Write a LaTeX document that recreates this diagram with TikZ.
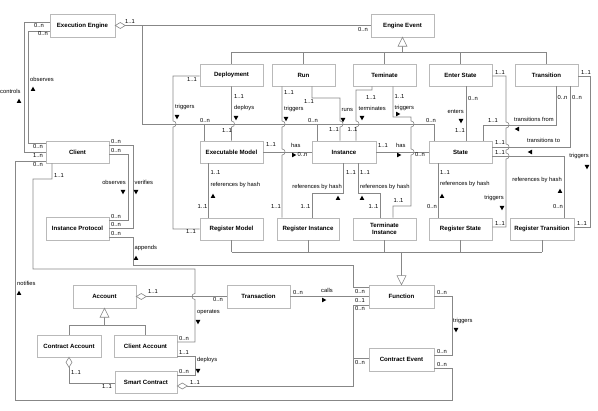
\documentclass[tikz,border=0pt]{standalone}
\usepackage{fontspec}
\setmainfont{Liberation Sans}
\definecolor{boxc}{RGB}{185,185,185}
\definecolor{linec}{RGB}{135,135,135}
\newcommand\hopR[2]{-- (#1,#2-3) .. controls (#1+4,#2-3) and (#1+4,#2+3) .. (#1,#2+3)}
\newcommand\hopL[2]{-- (#1,#2-3) .. controls (#1-4,#2-3) and (#1-4,#2+3) .. (#1,#2+3)}
\newcommand\tU[2]{\fill (#1-2.3,#2+2) -- (#1+2.3,#2+2) -- (#1,#2-2.4) -- cycle;}
\newcommand\tD[2]{\fill (#1-2.3,#2-2) -- (#1+2.3,#2-2) -- (#1,#2+2.4) -- cycle;}
\newcommand\tR[2]{\fill (#1-2,#2-2.3) -- (#1-2,#2+2.3) -- (#1+2.4,#2) -- cycle;}
\newcommand\tL[2]{\fill (#1+2,#2-2.3) -- (#1+2,#2+2.3) -- (#1-2.4,#2) -- cycle;}
\begin{document}
\begin{tikzpicture}[x=1pt,y=-1pt,
 box/.style={draw=boxc,fill=white,line width=0.6pt,inner sep=0pt,align=center,
   font=\fontsize{6.1}{7}\selectfont\bfseries,minimum width=63pt,minimum height=22pt},
 ln/.style={draw=linec,line width=0.6pt},
 lb/.style={inner sep=0pt,font=\fontsize{5.8}{6.5}\selectfont,anchor=west}]
\useasboundingbox (0,0) rectangle (598,411);
% boxes
\node[box,minimum width=65pt,minimum height=23pt] (ee) at (82.5,25.5) {Execution Engine};
\node[box,minimum height=23pt] (ev) at (402.5,25.5) {Engine Event};
\node[box] (dep) at (231.5,75) {Deployment};
\node[box] (run) at (303.5,75) {Run};
\node[box] (ter) at (384.5,75) {Teminate};
\node[box] (ens) at (460.5,75) {Enter State};
\node[box] (tra) at (546.5,75) {Transition};
\node[box] (cli) at (77.5,152) {Client};
\node[box] (exm) at (231.5,152) {Executable Model};
\node[box,minimum width=64pt] (ins) at (344,152) {Instance};
\node[box] (sta) at (460.5,152) {State};
\node[box,minimum height=23pt] (ip) at (77.5,228.5) {Instance Protocol};
\node[box] (rm) at (231.5,229) {Register Model};
\node[box,minimum width=62pt] (ri) at (308,229) {Register Instance};
\node[box] (ti) at (384.5,229) {Terminate\\Instance};
\node[box] (rs) at (460.5,229) {Register State};
\node[box,minimum width=64pt] (rt) at (542,229) {Register Transition};
\node[box,minimum height=23pt] (acc) at (104.5,296.5) {Account};
\node[box,minimum height=23pt] (trn) at (258.5,296.5) {Transaction};
\node[box,minimum width=65pt,minimum height=23pt] (fun) at (401.5,296.5) {Function};
\node[box,minimum width=64pt] (ca) at (69,346) {Contract Account};
\node[box] (cla) at (145.5,346) {Client Account};
\node[box,minimum width=62pt] (sc) at (146,382) {Smart Contract};
\node[box,minimum width=65pt,minimum height=23pt] (ce) at (401.5,359.5) {Contract Event};
% generalization: Engine Event
\draw[ln] ([yshift=-9pt]ev.south) -- (ev.south |- 0,52);
\draw[ln] (dep.north |- 0,52) -- (tra.north |- 0,52);
\foreach \n in {dep,run,ter,ens,tra} \draw[ln] (\n.north) -- (\n.north |- 0,52);
\draw[ln,fill=white] (ev.south) -- ++(4.5,9) -- ++(-9,0) -- cycle;
% generalization: Function
\draw[ln] (rm.south |- 0,252) -- (rt.south |- 0,252);
\foreach \n in {rm,ri,ti,rs,rt} \draw[ln] (\n.south) -- (\n.south |- 0,252);
\draw[ln] (fun.north |- 0,252) -- ([yshift=9pt]fun.north);
\draw[ln,fill=white] (fun.north) -- ++(4.5,-9) -- ++(-9,0) -- cycle;
% generalization: Account
\draw[ln] ([yshift=-9pt]acc.south) -- (acc.south |- 0,325);
\draw[ln] (ca.north |- 0,325) -- (cla.north |- 0,325);
\draw[ln] (ca.north) -- (ca.north |- 0,325);
\draw[ln] (cla.north) -- (cla.north |- 0,325);
\draw[ln,fill=white] (acc.south) -- ++(4.5,9) -- ++(-9,0) -- cycle;
% Execution Engine aggregation
\draw[ln] ([xshift=10pt]ee.east) -- (ev.west);
\draw[ln] (142,25.5) -- (142,124) -- (434,124) -- (sta.north -| 434,0);
\draw[ln] (204,124) -- (exm.north -| 204,0);
\draw[ln] (317,124) -- (ins.north -| 317,0);
\draw[ln,fill=white] (ee.east) -- ++(5,-3) -- ++(5,3) -- ++(-5,3) -- cycle;
% controls / observes / notifies
\draw[ln] (ee.west |- 0,22) -- (24,22) -- (24,152) -- (cli.west |- 0,152);
\draw[ln] (ee.west |- 0,31) -- (28,31) -- (28,143) -- (cli.west |- 0,143);
\draw[ln] (cli.west |- 0,161) -- (15,161) -- (15,400) -- (452,400) -- (452,368) -- (ce.east |- 0,368);
% client / instance protocol
\draw[ln] (cli.east |- 0,154) -- (128,154) -- (128,220) -- (ip.east |- 0,220);
\draw[ln] (cli.east |- 0,145) -- (133,145) -- (133,228) -- (ip.east |- 0,228);
\draw[ln] (ip.east |- 0,237) -- (133,237) -- (133,265) -- (353,265) -- (353,287) -- (fun.west |- 0,287);
% operates
\draw[ln] (cli.south -| 52,0) -- (52,179) -- (33,179) -- (33,269) -- (195,269) \hopL{195}{296.5} -- (195,342) -- (cla.east |- 0,342);
% account - transaction
\draw[ln] ([xshift=10pt]acc.east) -- (trn.west);
\draw[ln,fill=white] (acc.east) -- ++(5,-3) -- ++(5,3) -- ++(-5,3) -- cycle;
% calls
\draw[ln] (trn.east) -- (fun.west);
% smart contract aggregation
\draw[ln] ([xshift=10pt]sc.east |- 0,386) -- (353,386) -- (353,305) -- (fun.west |- 0,305);
\draw[ln] (353,358) -- (ce.west |- 0,358);
\draw[ln,fill=white] (sc.east |- 0,386) -- ++(5,-3) -- ++(5,3) -- ++(-5,3) -- cycle;
% deploys (client account -> smart contract)
\draw[ln] (cla.east |- 0,356) -- (195,356) -- (195,375) -- (sc.east |- 0,375);
% contract account - smart contract
\draw[ln] ([yshift=-10pt]ca.south) -- (69,383) -- (sc.west |- 0,383);
\draw[ln,fill=white] (ca.south) -- ++(3,5) -- ++(-3,5) -- ++(-3,-5) -- cycle;
% function triggers contract event
\draw[ln] (fun.east |- 0,296) -- (452,296) -- (452,355) -- (ce.east |- 0,355);
% deployment triggers register model
\draw[ln] (dep.west |- 0,76) -- (173,76) \hopR{173}{124} -- (173,229) -- (rm.west);
% deploys
\draw[ln] (dep.south) \hopR{231.5}{124} -- (exm.north);
% run triggers register instance
\draw[ln] (run.south -| 282,0) \hopR{282}{124} \hopR{282}{152} -- (ri.north -| 282,0);
% runs
\draw[ln] (run.south -| 312,0) -- (312,98) -- (340,98) \hopR{340}{124} -- (ins.north -| 340,0);
% terminates
\draw[ln] (ter.south -| 372,0) -- (372,90) -- (356,90) \hopR{356}{124} -- (ins.north -| 356,0);
% teminate triggers terminate instance
\draw[ln] (ter.south -| 393,0) -- (393,117) -- (411,117) \hopR{411}{124} \hopR{411}{152} -- (411,206) -- (393,206) -- (ti.north -| 393,0);
% has
\draw[ln] (exm.east) -- (ins.west);
\draw[ln] (ins.east) -- (sta.west);
% references by hash
\draw[ln] (exm.south -| 208,0) -- (rm.north -| 208,0);
\draw[ln] (ins.south -| 343,0) -- (343,193) -- (312,193) -- (ri.north -| 312,0);
\draw[ln] (ins.south -| 358,0) -- (358,193) -- (380,193) -- (ti.north -| 380,0);
\draw[ln] (sta.south -| 438,0) -- (rs.north -| 438,0);
% enters
\draw[ln] (ens.south -| 466,0) -- (sta.north -| 466,0);
% enter state triggers register state
\draw[ln] (ens.east |- 0,76) -- (506,76) \hopR{506}{125} \hopR{506}{147} \hopR{506}{156} -- (506,227) -- (rs.east |- 0,227);
% transitions from / to
\draw[ln] (tra.south -| 556,0) -- (556,125) -- (483,125) -- (sta.north -| 483,0);
\draw[ln] (sta.east |- 0,147) -- (570,147) -- (tra.south -| 570,0);
% register transition references state
\draw[ln] (sta.east |- 0,156) -- (564,156) -- (rt.north -| 564,0);
% transition triggers register transition
\draw[ln] (tra.east |- 0,76) -- (590,76) -- (590,227) -- (rt.east |- 0,227);
% labels
\node[lb] (l01) at (125,21.5) {1..1};
\node[lb] (l02) at (358,29.5) {0..n};
\node[lb] (l03) at (200,120.5) {0..n};
\node[lb] (l04) at (308,120.5) {0..n};
\node[lb] (l05) at (426,120.5) {0..n};
\node[lb] (l06) at (34,25.5) {0..n};
\node[lb] (l07) at (33,155.5) {1..n};
\node[lb] (l08) at (0,91) {controls};
\tU{19}{101}
\node[lb] (l09) at (38,34) {0..n};
\node[lb] (l10) at (33,146.5) {0..n};
\node[lb] (l11) at (30,79) {observes};
\tU{33}{89}
\node[lb] (l12) at (33,164.5) {0..n};
\node[lb] (l13) at (437,365) {0..n};
\node[lb] (l14) at (17,283) {notifies};
\tU{19}{293}
\node[lb] (l15) at (111,150.5) {0..n};
\node[lb] (l16) at (111,216.5) {0..n};
\node[lb,anchor=east] (l17) at (126,182) {observes};
\tD{123}{192}
\node[lb] (l18) at (111,141.5) {0..n};
\node[lb] (l19) at (111,224.5) {0..n};
\node[lb] (l20) at (134.5,182) {verifies};
\tD{136}{192}
\node[lb] (l21) at (111,233.5) {0..n};
\node[lb] (l22) at (134.5,248) {appends};
\tU{136}{258}
\node[lb] (l23) at (355,291.5) {0..n};
\node[lb] (l24) at (54,175.5) {1..1};
\node[lb] (l25) at (179,338.5) {0..n};
\node[lb] (l26) at (197,312) {operates};
\tD{198}{322}
\node[lb] (l27) at (148,292) {1..1};
\node[lb] (l28) at (213,300) {0..n};
\node[lb] (l29) at (293,292.5) {0..n};
\node[lb] (l30) at (321,290) {calls};
\tR{324}{300}
\node[lb] (l31) at (355,300.5) {0..1};
\node[lb] (l32) at (190,382.5) {1..1};
\node[lb] (l33) at (355,309) {0..n};
\node[lb] (l34) at (355,362.5) {0..n};
\node[lb] (l35) at (179,352.5) {1..1};
\node[lb] (l36) at (179,372) {0..n};
\node[lb] (l37) at (197,360) {deploys};
\tD{198}{371}
\node[lb] (l38) at (71,373) {1..1};
\node[lb] (l39) at (102,386.5) {1..1};
\node[lb] (l40) at (437,292.5) {0..n};
\node[lb] (l41) at (437,351.5) {0..n};
\node[lb] (l42) at (453,321) {triggers};
\tD{456}{330}
\node[lb] (l43) at (187,79.5) {1..1};
\node[lb] (l44) at (175,107) {triggers};
\tD{177}{117}
\node[lb] (l45) at (186,231.5) {1..1};
\node[lb] (l46) at (234,97) {1..1};
\node[lb] (l47) at (234,108) {deploys};
\tD{236}{118}
\node[lb] (l48) at (222,131) {1..1};
\node[lb] (l49) at (284,93) {1..1};
\node[lb] (l50) at (284,109) {triggers};
\tD{286}{119}
\node[lb] (l51) at (271,207) {1..1};
\node[lb] (l52) at (304,102) {1..1};
\node[lb] (l53) at (341.5,110) {runs};
\tD{343}{120}
\node[lb] (l54) at (329,130) {1..1};
\node[lb] (l55) at (366,98) {1..1};
\node[lb] (l56) at (358.5,108.5) {terminates};
\tD{362}{118}
\node[lb] (l57) at (347.5,130) {1..1};
\node[lb] (l58) at (394.5,97) {1..1};
\node[lb] (l59) at (394.5,108) {triggers};
\tR{398}{114}
\node[lb] (l60) at (393.5,201) {1..1};
\node[lb] (l61) at (266,145) {1..1};
\node[lb] (l62) at (291,145) {has};
\tR{294}{155}
\node[lb] (l63) at (297.5,155) {0..n};
\node[lb] (l64) at (378,146) {1..1};
\node[lb] (l65) at (396,145) {has};
\tR{399}{155}
\node[lb] (l66) at (415,155) {0..n};
\node[lb] (l67) at (210.5,173) {1..1};
\node[lb] (l68) at (210.5,185) {references by hash};
\tU{213}{196}
\node[lb] (l69) at (197.5,207) {1..1};
\node[lb] (l70) at (346,173) {1..1};
\node[lb,anchor=east] (l71) at (342,187) {references by hash};
\tU{338}{198}
\node[lb] (l72) at (300.5,207) {1..1};
\node[lb] (l73) at (360,173) {1..1};
\node[lb] (l74) at (360,187) {references by hash};
\tU{362}{198}
\node[lb] (l75) at (368.5,207) {1..1};
\node[lb] (l76) at (440,173) {1..1};
\node[lb] (l77) at (440,184) {references by hash};
\tU{442}{196}
\node[lb] (l78) at (427,207) {0..n};
\node[lb] (l79) at (468,99) {0..n};
\node[lb,anchor=east] (l80) at (464,112) {enters};
\tD{461}{121}
\node[lb] (l81) at (455,131) {1..1};
\node[lb] (l82) at (495,72.5) {1..1};
\node[lb,anchor=east] (l83) at (504,198) {triggers};
\tD{502}{208}
\node[lb] (l84) at (495,224) {1..1};
\node[lb] (l85) at (557.5,98) {0..n};
\node[lb,anchor=east] (l86) at (554,119) {transitions from};
\tL{517}{129}
\node[lb] (l87) at (488,121) {1..1};
\node[lb] (l88) at (495,143) {1..1};
\node[lb] (l89) at (527,140) {transitions to};
\tL{530}{152}
\node[lb] (l90) at (572,98) {0..n};
\node[lb] (l91) at (495,152.5) {1..1};
\node[lb,anchor=east] (l92) at (562,180) {references by hash};
\tU{560}{191}
\node[lb] (l93) at (553,207) {0..n};
\node[lb] (l94) at (581,72.5) {1..1};
\node[lb,anchor=east] (l95) at (589,156) {triggers};
\tD{587}{167}
\node[lb] (l96) at (577,224) {1..1};
\end{tikzpicture}
\end{document}
